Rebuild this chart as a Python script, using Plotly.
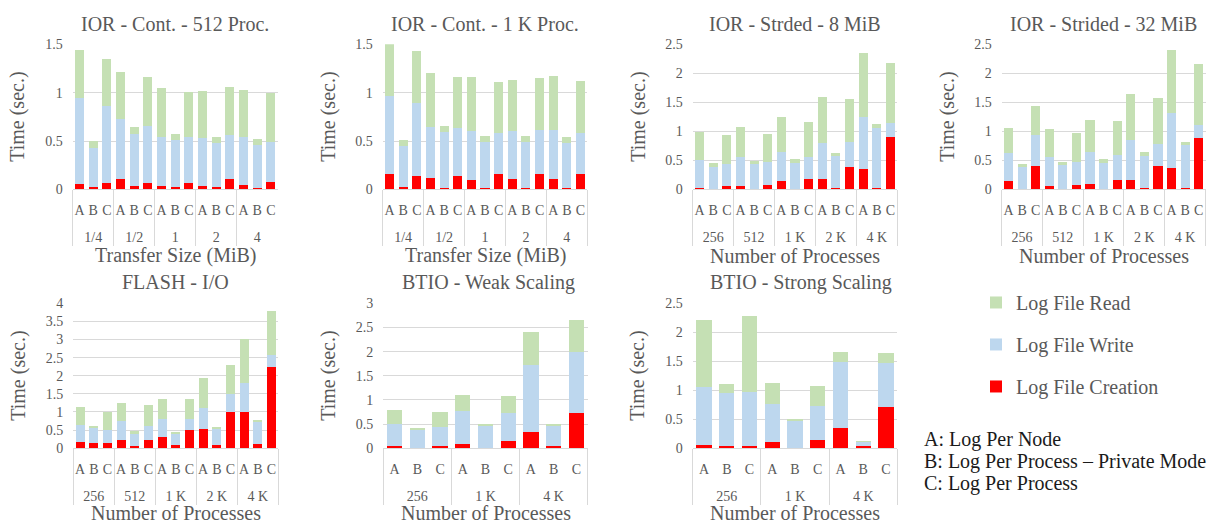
import plotly.graph_objects as go

# ---- data: time (sec.) split into creation / write / read for modes A, B, C ----
MODES = ["A", "B", "C"]

# IOR - contiguous, 512 processes, per transfer size (MiB)
ior512_groups = ["1/4", "1/2", "1", "2", "4"]
ior512_create = [0.06, 0.02, 0.07, 0.11, 0.03, 0.07, 0.04, 0.02, 0.07, 0.04, 0.02, 0.11, 0.05, 0.01, 0.08]
ior512_write = [0.88, 0.41, 0.79, 0.62, 0.54, 0.59, 0.50, 0.49, 0.47, 0.49, 0.46, 0.45, 0.49, 0.45, 0.41]
ior512_read = [0.50, 0.07, 0.49, 0.48, 0.07, 0.50, 0.51, 0.06, 0.47, 0.49, 0.06, 0.50, 0.49, 0.06, 0.51]

# IOR - contiguous, 1 K processes, per transfer size (MiB)
ior1k_groups = ["1/4", "1/2", "1", "2", "4"]
ior1k_create = [0.16, 0.02, 0.14, 0.12, 0.01, 0.14, 0.10, 0.01, 0.16, 0.11, 0.01, 0.16, 0.11, 0.01, 0.16]
ior1k_write = [0.80, 0.43, 0.75, 0.52, 0.58, 0.49, 0.50, 0.48, 0.42, 0.49, 0.48, 0.45, 0.50, 0.47, 0.42]
ior1k_read = [0.54, 0.06, 0.54, 0.56, 0.06, 0.53, 0.56, 0.06, 0.53, 0.53, 0.06, 0.54, 0.56, 0.06, 0.54]

# IOR - strided, 8 MiB, per number of processes
str8_groups = ["256", "512", "1 K", "2 K", "4 K"]
str8_create = [0.03, 0.00, 0.06, 0.05, 0.00, 0.07, 0.15, 0.00, 0.18, 0.18, 0.02, 0.39, 0.35, 0.03, 0.90]
str8_write = [0.48, 0.39, 0.38, 0.51, 0.43, 0.41, 0.50, 0.46, 0.37, 0.62, 0.55, 0.42, 0.90, 1.03, 0.24]
str8_read = [0.48, 0.06, 0.49, 0.51, 0.06, 0.48, 0.59, 0.06, 0.61, 0.79, 0.05, 0.75, 1.10, 0.07, 1.03]

# IOR - strided, 32 MiB, per number of processes
str32_groups = ["256", "512", "1 K", "2 K", "4 K"]
str32_create = [0.15, 0.00, 0.41, 0.05, 0.00, 0.07, 0.10, 0.00, 0.17, 0.16, 0.02, 0.40, 0.36, 0.02, 0.88]
str32_write = [0.47, 0.38, 0.53, 0.51, 0.42, 0.40, 0.54, 0.46, 0.42, 0.69, 0.56, 0.39, 0.96, 0.74, 0.23]
str32_read = [0.44, 0.06, 0.49, 0.48, 0.05, 0.50, 0.56, 0.06, 0.58, 0.80, 0.06, 0.78, 1.08, 0.06, 1.05]

# FLASH - I/O, per number of processes
flash_groups = ["256", "512", "1 K", "2 K", "4 K"]
flash_create = [0.16, 0.15, 0.15, 0.22, 0.06, 0.22, 0.30, 0.08, 0.49, 0.53, 0.08, 1.00, 1.00, 0.11, 2.25]
flash_write = [0.49, 0.40, 0.36, 0.52, 0.32, 0.39, 0.50, 0.32, 0.31, 0.57, 0.46, 0.51, 0.79, 0.60, 0.33]
flash_read = [0.49, 0.05, 0.49, 0.52, 0.09, 0.58, 0.56, 0.06, 0.56, 0.85, 0.05, 0.78, 1.22, 0.07, 1.21]

# BTIO - weak scaling, per number of processes
weak_groups = ["256", "1 K", "4 K"]
weak_create = [0.05, 0.01, 0.05, 0.09, 0.01, 0.14, 0.34, 0.04, 0.73]
weak_write = [0.46, 0.37, 0.38, 0.67, 0.44, 0.59, 1.38, 0.41, 1.27]
weak_read = [0.29, 0.03, 0.32, 0.35, 0.05, 0.35, 0.68, 0.05, 0.66]

# BTIO - strong scaling, per number of processes
strong_groups = ["256", "1 K", "4 K"]
strong_create = [0.06, 0.04, 0.04, 0.10, 0.01, 0.14, 0.35, 0.04, 0.71]
strong_write = [1.00, 0.91, 0.93, 0.67, 0.46, 0.59, 1.14, 0.06, 0.76]
strong_read = [1.16, 0.16, 1.32, 0.35, 0.03, 0.35, 0.17, 0.01, 0.18]

SERIES = ["Log File Creation", "Log File Write", "Log File Read"]
COLORS = {"Log File Creation": "#FF0000", "Log File Write": "#BDD7EE", "Log File Read": "#C5E0B4"}
LEGEND_RANK = {"Log File Read": 1, "Log File Write": 2, "Log File Creation": 3}

W, H = 1211, 531
GRAY = "#595959"
GRID = "#D9D9D9"
FONT = "Liberation Serif, DejaVu Serif, serif"

# panel: (title, groups, series, y max, x title, x span px, y span px)
panels = [
    ("IOR - Cont. - 512 Proc.", ior512_groups, (ior512_create, ior512_write, ior512_read), 1.5,
     "Transfer Size (MiB)", (72.7, 277.7), (38.3, 187.7)),
    ("IOR - Cont. - 1 K Proc.", ior1k_groups, (ior1k_create, ior1k_write, ior1k_read), 1.5,
     "Transfer Size (MiB)", (382.7, 587.3), (38.3, 187.7)),
    ("IOR - Strded - 8 MiB", str8_groups, (str8_create, str8_write, str8_read), 2.5,
     "Number of Processes", (692.7, 897.3), (38.3, 187.7)),
    ("IOR - Strided - 32 MiB", str32_groups, (str32_create, str32_write, str32_read), 2.5,
     "Number of Processes", (1001.7, 1205.5), (38.3, 187.7)),
    ("FLASH - I/O", flash_groups, (flash_create, flash_write, flash_read), 4,
     "Number of Processes", (73.3, 278.3), (305.0, 454.0)),
    ("BTIO - Weak Scaling", weak_groups, (weak_create, weak_write, weak_read), 3,
     "Number of Processes", (383.3, 587.7), (305.0, 454.0)),
    ("BTIO - Strong Scaling", strong_groups, (strong_create, strong_write, strong_read), 2.5,
     "Number of Processes", (692.7, 897.3), (305.0, 454.0)),
]

# horizontal centres of the y-axis titles
ytitle_x = [18, 329, 639, 948, 19, 329, 638]
# small offsets of the panel titles from the plot centre
title_dx = [0, 0, 0, 0, 0, 3, 6]

fig = go.Figure()
layout = dict(
    width=W, height=H,
    margin=dict(l=0, r=0, t=0, b=0),
    paper_bgcolor="white", plot_bgcolor="white",
    barmode="stack", bargap=0.33,
    font=dict(family=FONT, size=14, color=GRAY),
    showlegend=True,
    legend=dict(
        x=(976 / W), y=1 - 284 / H, xanchor="left", yanchor="top",
        traceorder="grouped", tracegroupgap=13,
        font=dict(family=FONT, size=20, color=GRAY),
        bgcolor="rgba(0,0,0,0)", itemclick=False, itemdoubleclick=False,
    ),
)
annotations = []

for i, (title, groups, series, ymax, xtitle, (x0, x1), (y0, y1)) in enumerate(panels):
    n = i + 1
    xa = "x" if n == 1 else f"x{n}"
    ya = "y" if n == 1 else f"y{n}"
    # group labels sit one line lower, leaving room under the A/B/C row
    outer = ["<br>" + g for g in groups for _ in MODES]
    inner = MODES * len(groups)
    for name, vals in zip(SERIES, series):
        fig.add_trace(go.Bar(
            x=[outer, inner], y=vals, name=name, legendgroup=name,
            legendrank=LEGEND_RANK[name],
            showlegend=(n == 1), marker=dict(color=COLORS[name], line=dict(width=0)),
            xaxis=xa, yaxis=ya, hoverinfo="y+name",
        ))
    xkey = "xaxis" if n == 1 else f"xaxis{n}"
    ykey = "yaxis" if n == 1 else f"yaxis{n}"
    layout[xkey] = dict(
        domain=[x0 / W, x1 / W], anchor=ya, type="multicategory",
        showline=True, linecolor=GRID, linewidth=1,
        showdividers=True, dividercolor=GRID, dividerwidth=1,
        ticks="", showgrid=False, zeroline=False,
        tickmode="linear", dtick=1, tickangle=0, ticklabelstandoff=8,
        tickfont=dict(family=FONT, size=14, color=GRAY),
    )
    layout[ykey] = dict(
        domain=[1 - y1 / H, 1 - y0 / H], anchor=xa, range=[0, ymax], dtick=0.5,
        showgrid=True, gridcolor=GRID, gridwidth=1.3, zeroline=False, showline=False,
        ticks="", ticklabelstandoff=9,
        tickfont=dict(family=FONT, size=14, color=GRAY),
    )
    cx = (x0 + x1) / 2
    top_row = y0 < 100
    annotations.append(dict(
        text=title, x=(cx + title_dx[i]) / W, y=1 - (17 if top_row else 283) / H,
        xref="paper", yref="paper", showarrow=False, xanchor="center", yanchor="middle",
        font=dict(family=FONT, size=20, color=GRAY),
    ))
    annotations.append(dict(
        text="Time (sec.)", x=ytitle_x[i] / W, y=1 - ((y0 + y1) / 2) / H,
        xref="paper", yref="paper", showarrow=False, textangle=-90,
        xanchor="center", yanchor="middle",
        font=dict(family=FONT, size=20, color=GRAY),
    ))
    annotations.append(dict(
        text=xtitle, x=cx / W, y=1 - (256 if top_row else 521) / H,
        xref="paper", yref="paper", showarrow=False, xanchor="center", yanchor="middle",
        font=dict(family=FONT, size=20, color=GRAY),
    ))

# key to the three logging modes
mode_notes = ["A: Log Per Node", "B: Log Per Process \u2013 Private Mode", "C: Log Per Process"]
for k, (txt, yc) in enumerate(zip(mode_notes, [445, 467.5, 490.5])):
    annotations.append(dict(
        text=txt, x=922 / W, y=1 - yc / H, xref="paper", yref="paper",
        showarrow=False, xanchor="left", yanchor="middle",
        font=dict(family=FONT, size=20, color="#1A1A1A"),
    ))

layout["annotations"] = annotations
fig.update_layout(**layout)
fig.write_html("out.html")
